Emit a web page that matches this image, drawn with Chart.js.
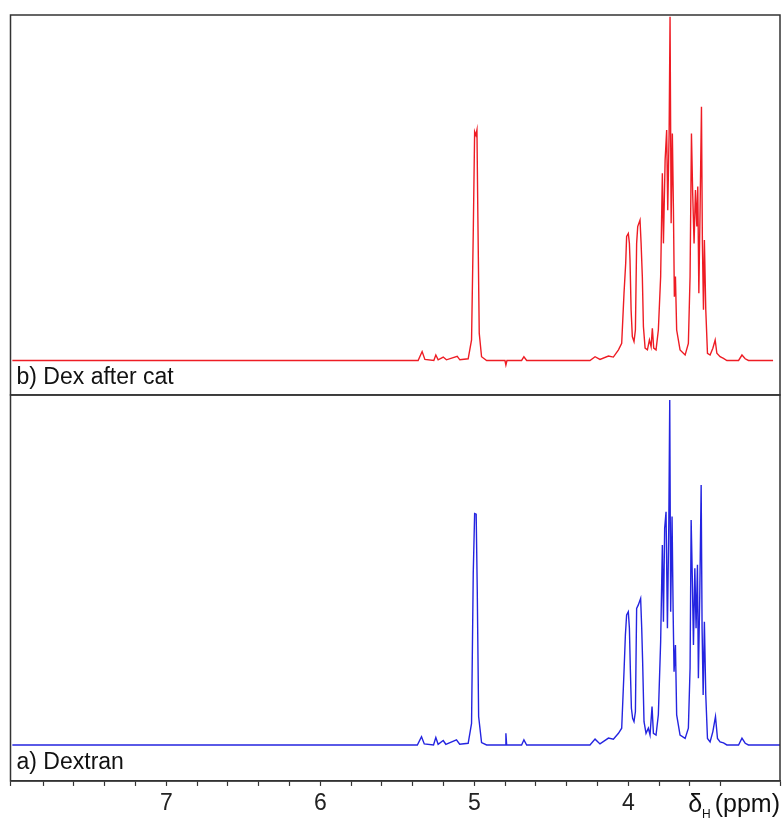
<!DOCTYPE html>
<html>
<head>
<meta charset="utf-8">
<script src="https://cdn.jsdelivr.net/npm/chart.js@4.4.0/dist/chart.umd.min.js"></script>
<style>
  html, body { margin: 0; padding: 0; background: #fff; }
  #wrap { width: 782px; height: 821px; }
</style>
</head>
<body>
<div id="wrap"><canvas id="nmrChart" width="782" height="821"></canvas></div>
<script>
// b) Dex after cat (top panel, red) - chemical shift (ppm) and intensity
const dexCatPpm = [
    8.00, 5.365, 5.339, 5.321, 5.263, 5.250, 5.235, 5.202, 5.181, 5.111, 5.094, 5.040,
    5.018, 5.007, 4.998, 4.990, 4.983, 4.977, 4.968, 4.953, 4.920, 4.801, 4.795, 4.788,
    4.693, 4.678, 4.660, 4.249, 4.216, 4.184, 4.129, 4.097, 4.064,
    4.043, 4.028, 4.017, 4.011, 4.000, 3.993, 3.989, 3.982, 3.974, 3.963, 3.954, 3.946,
    3.939, 3.924, 3.917, 3.909, 3.902, 3.891, 3.876, 3.863, 3.852, 3.844, 3.835, 3.820,
    3.805, 3.790, 3.779, 3.772, 3.761, 3.751, 3.744, 3.735, 3.729, 3.722, 3.714, 3.707,
    3.701, 3.694, 3.686, 3.664, 3.631, 3.610, 3.599, 3.590, 3.582, 3.573, 3.564, 3.555,
    3.549, 3.542, 3.534, 3.525, 3.519, 3.512, 3.506, 3.497, 3.486, 3.469, 3.451, 3.436,
    3.425, 3.404, 3.382, 3.360, 3.284, 3.262, 3.241, 3.220, 3.060
];
const dexCatInt = [
    0, 0, 2.6, 0.3, 0, 1.6, 0.2, 1.0, 0.2, 1.2, 0.2, 0.5,
    6.0, 37.1, 66.8, 65.8, 67.3, 42.0, 7.9, 1.1, 0, 0, -1.3, 0,
    0, 1.1, 0, 0, 1.1, 0.3, 1.3, 1.0, 3.1,
    5.0, 19.6, 28.4, 36.2, 37.1, 34.2, 29.3, 14.8, 7.0, 5.5, 8.9, 34.2,
    39.1, 41.0, 34.2, 24.5, 9.9, 3.6, 3.1, 6.0, 4.0, 9.4, 3.6, 3.1,
    8.9, 24.5, 54.7, 34.2, 58.5, 67.3, 43.9, 66.3, 100.4, 40.1, 66.3, 43.9,
    18.6, 24.5, 8.9, 3.1, 1.6, 5.0, 24.5, 66.3, 48.8, 34.2, 49.8, 39.1,
    50.8, 19.6, 43.9, 74.1, 34.2, 14.8, 35.2, 14.8, 2.1, 1.6, 3.6, 6.0,
    2.1, 1.1, 0.6, 0, 0, 1.6, 0.5, 0, 0
];

// a) Dextran (bottom panel, blue)
const dextranPpm = [
    8.00, 5.370, 5.343, 5.325, 5.265, 5.250, 5.235, 5.202, 5.185, 5.116, 5.095, 5.040,
    5.018, 5.007, 4.998, 4.988, 4.981, 4.972, 4.953, 4.920, 4.800, 4.795, 4.790,
    4.693, 4.678, 4.660, 4.249, 4.216, 4.184, 4.129, 4.097, 4.064,
    4.043, 4.028, 4.019, 4.011, 4.000, 3.993, 3.987, 3.980, 3.972, 3.963, 3.954, 3.946,
    3.935, 3.920, 3.913, 3.907, 3.898, 3.885, 3.870, 3.859, 3.846, 3.837, 3.820, 3.805,
    3.790, 3.779, 3.772, 3.764, 3.755, 3.746, 3.737, 3.731, 3.725, 3.716, 3.709, 3.703,
    3.694, 3.686, 3.664, 3.631, 3.610, 3.599, 3.592, 3.584, 3.577, 3.568, 3.560, 3.551,
    3.545, 3.536, 3.527, 3.521, 3.514, 3.506, 3.497, 3.486, 3.469, 3.451, 3.434, 3.421,
    3.404, 3.382, 3.360, 3.284, 3.262, 3.241, 3.220, 3.000
];
const dextranInt = [
    0, 0, 2.4, 0.3, 0, 2.2, 0.2, 1.3, 0.2, 1.5, 0.2, 0.5,
    6.3, 50.1, 67.6, 67.4, 45.3, 8.3, 0.7, 0, 0, 3.4, 0,
    0, 1.5, 0, 0, 1.7, 0.3, 2.0, 1.7, 3.4,
    4.9, 21.4, 32.1, 38.0, 38.9, 34.1, 22.4, 10.7, 7.8, 6.8, 9.7, 39.9,
    40.9, 42.8, 34.1, 24.3, 6.8, 3.4, 4.9, 2.9, 11.2, 3.4, 2.9, 8.8,
    30.2, 58.4, 36.0, 63.3, 68.1, 34.1, 65.2, 100.7, 38.9, 66.7, 38.9, 21.4,
    29.2, 8.8, 2.9, 1.9, 4.9, 22.4, 65.7, 47.7, 29.2, 51.6, 34.1, 52.6,
    19.5, 43.8, 75.9, 34.1, 14.6, 36.0, 14.6, 1.9, 0.9, 3.9, 8.3, 1.9,
    0.9, 0.6, 0, 0, 2.0, 0.5, 0, 0
];

// Axis
const ppmMin = 3.015;
const ppmMax = 8.012;
const ppmStep = 0.2;
const labelledTicks = [4, 5, 6, 7];
const panelLabels = ['b) Dex after cat', 'a) Dextran'];

function toPoints(xs, ys) {
    return xs.map((x, i) => ({ x: x, y: ys[i] }));
}

const FONT = '"Liberation Sans", Arial, sans-serif';

// Panel frames, panel captions and the delta-H axis title
const panelPlugin = {
    id: 'panels',
    afterDraw(chart) {
        const ctx = chart.ctx;
        const x = chart.scales.x;
        const top = chart.scales.yTop;
        const bot = chart.scales.yBottom;
        ctx.save();
        ctx.strokeStyle = '#333';
        ctx.lineWidth = 1.5;
        ctx.strokeRect(x.left, top.top, x.right - x.left, top.bottom - top.top);
        ctx.strokeRect(x.left, bot.top, x.right - x.left, bot.bottom - bot.top);

        ctx.fillStyle = '#111';
        ctx.textBaseline = 'middle';
        ctx.textAlign = 'left';
        ctx.font = '23px ' + FONT;
        ctx.fillText(panelLabels[0], x.left + 6, top.bottom - 17);
        ctx.fillText(panelLabels[1], x.left + 6, bot.bottom - 18);

        // axis title, right aligned to the frame
        const ty = bot.bottom + 24;
        ctx.textAlign = 'right';
        ctx.font = '25px ' + FONT;
        const ppmText = '(ppm)';
        const wPpm = ctx.measureText(ppmText).width;
        ctx.fillText(ppmText, x.right, ty);
        ctx.font = '12px ' + FONT;
        const wH = ctx.measureText('H').width;
        ctx.fillText('H', x.right - wPpm - 4, ty + 10);
        ctx.font = '25px ' + FONT;
        ctx.fillText('δ', x.right - wPpm - 4 - wH, ty);
        ctx.restore();
    }
};

const ctx = document.getElementById('nmrChart').getContext('2d');
new Chart(ctx, {
    type: 'line',
    data: {
        datasets: [
            {
                label: panelLabels[0],
                data: toPoints(dexCatPpm, dexCatInt),
                yAxisID: 'yTop',
                borderColor: '#ee1c24',
                borderWidth: 1.4,
                pointRadius: 0,
                tension: 0
            },
            {
                label: panelLabels[1],
                data: toPoints(dextranPpm, dextranInt),
                yAxisID: 'yBottom',
                borderColor: '#2424e0',
                borderWidth: 1.4,
                pointRadius: 0,
                tension: 0
            }
        ]
    },
    options: {
        responsive: false,
        animation: false,
        layout: { padding: { left: 10.5, right: 2, top: 15, bottom: 0 } },
        plugins: { legend: { display: false }, tooltip: { enabled: false } },
        scales: {
            x: {
                type: 'linear',
                reverse: true,
                min: ppmMin,
                max: ppmMax,
                ticks: {
                    stepSize: ppmStep,
                    autoSkip: false,
                    maxRotation: 0,
                    padding: 2,
                    color: '#222',
                    font: { family: FONT, size: 23, lineHeight: 1.35 },
                    callback: (v) => {
                        const r = Math.round(v);
                        return (Math.abs(v - r) < 1e-6 && labelledTicks.includes(r)) ? String(r) : '';
                    }
                },
                grid: { drawOnChartArea: false, drawTicks: true, tickLength: 5, tickColor: '#333', tickWidth: 1.2 },
                border: { display: true, color: '#333', width: 1.5 }
            },
            // left boxes are stacked in reverse order, so the bottom panel comes first
            yBottom: {
                type: 'linear',
                position: 'left',
                stack: 'nmr',
                stackWeight: 386,
                min: -10.51,
                max: 102.2,
                display: false
            },
            yTop: {
                type: 'linear',
                position: 'left',
                stack: 'nmr',
                stackWeight: 380,
                min: -10.07,
                max: 100.88,
                display: false
            }
        }
    },
    plugins: [panelPlugin]
});
</script>
</body>
</html>
